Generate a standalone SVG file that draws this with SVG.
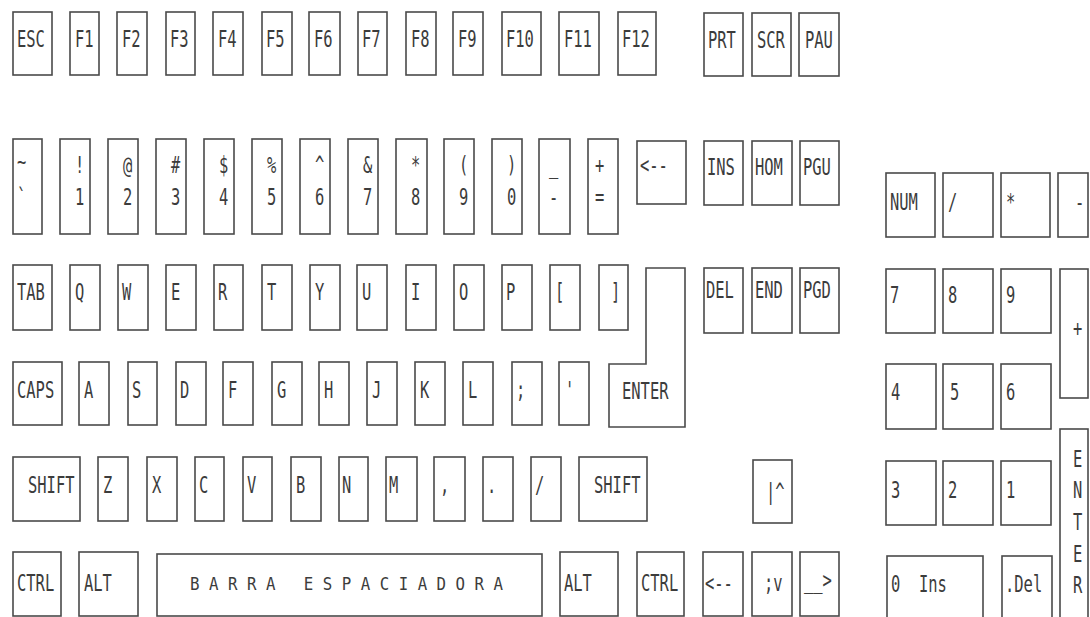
<svg xmlns="http://www.w3.org/2000/svg" width="1090" height="617" viewBox="0 0 1090 617">
<style>
rect, path { fill: #fff; stroke: #4a4a4a; stroke-width: 1.6; }
text { font-family: "DejaVu Sans Mono", "Liberation Mono", monospace; font-size: 23px; fill: #3c3c3c; }
.sp { font-size: 18px; }
</style>
<rect x="0" y="0" width="1090" height="617" style="stroke:none;fill:#fff"/>
<!-- Function row -->
<g id="key-esc"><rect x="13" y="12" width="39" height="63"/><text x="17" y="47" textLength="27.9" lengthAdjust="spacingAndGlyphs">ESC</text></g>
<g id="key-f1"><rect x="70" y="12" width="29" height="63"/><text x="75" y="47" textLength="18.6" lengthAdjust="spacingAndGlyphs">F1</text></g>
<g id="key-f2"><rect x="117" y="12" width="30" height="63"/><text x="122" y="47" textLength="18.6" lengthAdjust="spacingAndGlyphs">F2</text></g>
<g id="key-f3"><rect x="166" y="12" width="29" height="63"/><text x="170" y="47" textLength="18.6" lengthAdjust="spacingAndGlyphs">F3</text></g>
<g id="key-f4"><rect x="213" y="12" width="30" height="63"/><text x="218" y="47" textLength="18.6" lengthAdjust="spacingAndGlyphs">F4</text></g>
<g id="key-f5"><rect x="262" y="12" width="30" height="63"/><text x="266" y="47" textLength="18.6" lengthAdjust="spacingAndGlyphs">F5</text></g>
<g id="key-f6"><rect x="309" y="12" width="31" height="63"/><text x="314" y="47" textLength="18.6" lengthAdjust="spacingAndGlyphs">F6</text></g>
<g id="key-f7"><rect x="358" y="12" width="29" height="63"/><text x="362" y="47" textLength="18.6" lengthAdjust="spacingAndGlyphs">F7</text></g>
<g id="key-f8"><rect x="406" y="12" width="30" height="63"/><text x="411" y="47" textLength="18.6" lengthAdjust="spacingAndGlyphs">F8</text></g>
<g id="key-f9"><rect x="453" y="12" width="30" height="63"/><text x="458" y="47" textLength="18.6" lengthAdjust="spacingAndGlyphs">F9</text></g>
<g id="key-f10"><rect x="502" y="12" width="39" height="63"/><text x="506" y="47" textLength="27.9" lengthAdjust="spacingAndGlyphs">F10</text></g>
<g id="key-f11"><rect x="559" y="12" width="40" height="63"/><text x="564" y="47" textLength="27.9" lengthAdjust="spacingAndGlyphs">F11</text></g>
<g id="key-f12"><rect x="618" y="12" width="38" height="63"/><text x="622" y="47" textLength="27.9" lengthAdjust="spacingAndGlyphs">F12</text></g>
<g id="key-prt"><rect x="704" y="13" width="39" height="63"/><text x="708" y="48" textLength="27.9" lengthAdjust="spacingAndGlyphs">PRT</text></g>
<g id="key-scr"><rect x="752" y="13" width="39" height="63"/><text x="757" y="48" textLength="27.9" lengthAdjust="spacingAndGlyphs">SCR</text></g>
<g id="key-pau"><rect x="799" y="13" width="40" height="63"/><text x="805" y="48" textLength="27.9" lengthAdjust="spacingAndGlyphs">PAU</text></g>
<!-- Number row -->
<g id="key-tilde"><rect x="13" y="139" width="29" height="95"/><text x="17" y="170" textLength="9.3" lengthAdjust="spacingAndGlyphs">~</text><text x="17" y="205" textLength="9.3" lengthAdjust="spacingAndGlyphs">`</text></g>
<g id="key-1"><rect x="60" y="139" width="30" height="95"/><text x="75" y="173" textLength="9.3" lengthAdjust="spacingAndGlyphs">!</text><text x="75" y="205" textLength="9.3" lengthAdjust="spacingAndGlyphs">1</text></g>
<g id="key-2"><rect x="108" y="139" width="30" height="95"/><text x="123" y="173" textLength="9.3" lengthAdjust="spacingAndGlyphs">@</text><text x="123" y="205" textLength="9.3" lengthAdjust="spacingAndGlyphs">2</text></g>
<g id="key-3"><rect x="156" y="139" width="30" height="95"/><text x="171" y="173" textLength="9.3" lengthAdjust="spacingAndGlyphs">#</text><text x="171" y="205" textLength="9.3" lengthAdjust="spacingAndGlyphs">3</text></g>
<g id="key-4"><rect x="204" y="139" width="30" height="95"/><text x="219" y="173" textLength="9.3" lengthAdjust="spacingAndGlyphs">$</text><text x="219" y="205" textLength="9.3" lengthAdjust="spacingAndGlyphs">4</text></g>
<g id="key-5"><rect x="252" y="139" width="30" height="95"/><text x="267" y="173" textLength="9.3" lengthAdjust="spacingAndGlyphs">%</text><text x="267" y="205" textLength="9.3" lengthAdjust="spacingAndGlyphs">5</text></g>
<g id="key-6"><rect x="300" y="139" width="30" height="95"/><text x="315" y="173" textLength="9.3" lengthAdjust="spacingAndGlyphs">^</text><text x="315" y="205" textLength="9.3" lengthAdjust="spacingAndGlyphs">6</text></g>
<g id="key-7"><rect x="348" y="139" width="30" height="95"/><text x="363" y="173" textLength="9.3" lengthAdjust="spacingAndGlyphs">&amp;</text><text x="363" y="205" textLength="9.3" lengthAdjust="spacingAndGlyphs">7</text></g>
<g id="key-8"><rect x="396" y="139" width="31" height="95"/><text x="411" y="173" textLength="9.3" lengthAdjust="spacingAndGlyphs">*</text><text x="411" y="205" textLength="9.3" lengthAdjust="spacingAndGlyphs">8</text></g>
<g id="key-9"><rect x="444" y="139" width="30" height="95"/><text x="459" y="173" textLength="9.3" lengthAdjust="spacingAndGlyphs">(</text><text x="459" y="205" textLength="9.3" lengthAdjust="spacingAndGlyphs">9</text></g>
<g id="key-0"><rect x="492" y="139" width="30" height="95"/><text x="507" y="173" textLength="9.3" lengthAdjust="spacingAndGlyphs">)</text><text x="507" y="205" textLength="9.3" lengthAdjust="spacingAndGlyphs">0</text></g>
<g id="key-minus"><rect x="539" y="139" width="31" height="95"/><text x="549" y="173" textLength="9.3" lengthAdjust="spacingAndGlyphs">_</text><text x="549" y="205" textLength="9.3" lengthAdjust="spacingAndGlyphs">-</text></g>
<g id="key-equal"><rect x="588" y="139" width="30" height="95"/><text x="595" y="173" textLength="9.3" lengthAdjust="spacingAndGlyphs">+</text><text x="595" y="205" textLength="9.3" lengthAdjust="spacingAndGlyphs">=</text></g>
<g id="key-backspace"><rect x="637" y="141" width="49" height="63"/><text x="640" y="173" textLength="27.9" lengthAdjust="spacingAndGlyphs">&lt;--</text></g>
<g id="key-ins"><rect x="704" y="141" width="39" height="64"/><text x="707" y="175" textLength="27.9" lengthAdjust="spacingAndGlyphs">INS</text></g>
<g id="key-hom"><rect x="752" y="141" width="40" height="64"/><text x="755" y="175" textLength="27.9" lengthAdjust="spacingAndGlyphs">HOM</text></g>
<g id="key-pgu"><rect x="800" y="141" width="39" height="64"/><text x="803" y="175" textLength="27.9" lengthAdjust="spacingAndGlyphs">PGU</text></g>
<!-- Keypad top -->
<g id="key-num"><rect x="886" y="173" width="49" height="64"/><text x="890" y="210" textLength="27.9" lengthAdjust="spacingAndGlyphs">NUM</text></g>
<g id="key-kpslash"><rect x="943" y="173" width="50" height="64"/><text x="948" y="210" textLength="9.3" lengthAdjust="spacingAndGlyphs">/</text></g>
<g id="key-kpstar"><rect x="1001" y="173" width="49" height="64"/><text x="1006" y="210" textLength="9.3" lengthAdjust="spacingAndGlyphs">*</text></g>
<g id="key-kpminus"><rect x="1058" y="173" width="30" height="64"/><text x="1075" y="210" textLength="9.3" lengthAdjust="spacingAndGlyphs">-</text></g>
<!-- QWERTY row -->
<g id="key-tab"><rect x="13" y="265" width="39" height="65"/><text x="17" y="300" textLength="27.9" lengthAdjust="spacingAndGlyphs">TAB</text></g>
<g id="key-q"><rect x="70" y="265" width="30" height="65"/><text x="75" y="300" textLength="9.3" lengthAdjust="spacingAndGlyphs">Q</text></g>
<g id="key-w"><rect x="118" y="265" width="30" height="65"/><text x="122" y="300" textLength="9.3" lengthAdjust="spacingAndGlyphs">W</text></g>
<g id="key-e"><rect x="166" y="265" width="30" height="65"/><text x="171" y="300" textLength="9.3" lengthAdjust="spacingAndGlyphs">E</text></g>
<g id="key-r"><rect x="214" y="265" width="29" height="65"/><text x="218" y="300" textLength="9.3" lengthAdjust="spacingAndGlyphs">R</text></g>
<g id="key-t"><rect x="262" y="265" width="30" height="65"/><text x="267" y="300" textLength="9.3" lengthAdjust="spacingAndGlyphs">T</text></g>
<g id="key-y"><rect x="310" y="265" width="30" height="65"/><text x="315" y="300" textLength="9.3" lengthAdjust="spacingAndGlyphs">Y</text></g>
<g id="key-u"><rect x="357" y="265" width="30" height="65"/><text x="362" y="300" textLength="9.3" lengthAdjust="spacingAndGlyphs">U</text></g>
<g id="key-i"><rect x="406" y="265" width="30" height="65"/><text x="411" y="300" textLength="9.3" lengthAdjust="spacingAndGlyphs">I</text></g>
<g id="key-o"><rect x="454" y="265" width="30" height="65"/><text x="459" y="300" textLength="9.3" lengthAdjust="spacingAndGlyphs">O</text></g>
<g id="key-p"><rect x="502" y="265" width="30" height="65"/><text x="506" y="300" textLength="9.3" lengthAdjust="spacingAndGlyphs">P</text></g>
<g id="key-lbracket"><rect x="550" y="265" width="30" height="65"/><text x="555" y="300" textLength="9.3" lengthAdjust="spacingAndGlyphs">[</text></g>
<g id="key-rbracket"><rect x="599" y="265" width="29" height="65"/><text x="611" y="300" textLength="9.3" lengthAdjust="spacingAndGlyphs">]</text></g>
<g id="key-enter"><path d="M646,268 H685 V427 H609 V364 H646 Z"/><text x="622" y="399" textLength="46.5" lengthAdjust="spacingAndGlyphs">ENTER</text></g>
<g id="key-del"><rect x="704" y="268" width="39" height="65"/><text x="706" y="298" textLength="27.9" lengthAdjust="spacingAndGlyphs">DEL</text></g>
<g id="key-end"><rect x="752" y="268" width="40" height="65"/><text x="755" y="298" textLength="27.9" lengthAdjust="spacingAndGlyphs">END</text></g>
<g id="key-pgd"><rect x="800" y="268" width="39" height="65"/><text x="803" y="298" textLength="27.9" lengthAdjust="spacingAndGlyphs">PGD</text></g>
<g id="key-kp7"><rect x="886" y="269" width="49" height="64"/><text x="890" y="303" textLength="9.3" lengthAdjust="spacingAndGlyphs">7</text></g>
<g id="key-kp8"><rect x="943" y="269" width="50" height="64"/><text x="948" y="303" textLength="9.3" lengthAdjust="spacingAndGlyphs">8</text></g>
<g id="key-kp9"><rect x="1001" y="269" width="50" height="64"/><text x="1006" y="303" textLength="9.3" lengthAdjust="spacingAndGlyphs">9</text></g>
<g id="key-kpplus"><rect x="1060" y="269" width="28" height="129"/><text x="1073" y="336" textLength="9.3" lengthAdjust="spacingAndGlyphs">+</text></g>
<!-- Home row -->
<g id="key-caps"><rect x="13" y="362" width="49" height="63"/><text x="17" y="398" textLength="37.2" lengthAdjust="spacingAndGlyphs">CAPS</text></g>
<g id="key-a"><rect x="79" y="362" width="30" height="63"/><text x="84" y="398" textLength="9.3" lengthAdjust="spacingAndGlyphs">A</text></g>
<g id="key-s"><rect x="128" y="362" width="29" height="63"/><text x="132" y="398" textLength="9.3" lengthAdjust="spacingAndGlyphs">S</text></g>
<g id="key-d"><rect x="176" y="362" width="30" height="63"/><text x="180" y="398" textLength="9.3" lengthAdjust="spacingAndGlyphs">D</text></g>
<g id="key-f"><rect x="223" y="362" width="30" height="63"/><text x="228" y="398" textLength="9.3" lengthAdjust="spacingAndGlyphs">F</text></g>
<g id="key-g"><rect x="272" y="362" width="30" height="63"/><text x="277" y="398" textLength="9.3" lengthAdjust="spacingAndGlyphs">G</text></g>
<g id="key-h"><rect x="319" y="362" width="30" height="63"/><text x="324" y="398" textLength="9.3" lengthAdjust="spacingAndGlyphs">H</text></g>
<g id="key-j"><rect x="367" y="362" width="30" height="63"/><text x="372" y="398" textLength="9.3" lengthAdjust="spacingAndGlyphs">J</text></g>
<g id="key-k"><rect x="415" y="362" width="30" height="63"/><text x="420" y="398" textLength="9.3" lengthAdjust="spacingAndGlyphs">K</text></g>
<g id="key-l"><rect x="463" y="362" width="30" height="63"/><text x="468" y="398" textLength="9.3" lengthAdjust="spacingAndGlyphs">L</text></g>
<g id="key-semicolon"><rect x="512" y="362" width="30" height="63"/><text x="516" y="398" textLength="9.3" lengthAdjust="spacingAndGlyphs">;</text></g>
<g id="key-quote"><rect x="559" y="362" width="30" height="63"/><text x="565" y="398" textLength="9.3" lengthAdjust="spacingAndGlyphs">'</text></g>
<g id="key-kp4"><rect x="886" y="364" width="50" height="65"/><text x="891" y="400" textLength="9.3" lengthAdjust="spacingAndGlyphs">4</text></g>
<g id="key-kp5"><rect x="943" y="364" width="50" height="65"/><text x="950" y="400" textLength="9.3" lengthAdjust="spacingAndGlyphs">5</text></g>
<g id="key-kp6"><rect x="1001" y="364" width="50" height="65"/><text x="1006" y="400" textLength="9.3" lengthAdjust="spacingAndGlyphs">6</text></g>
<!-- Shift row -->
<g id="key-lshift"><rect x="13" y="457" width="67" height="64"/><text x="28" y="493" textLength="46.5" lengthAdjust="spacingAndGlyphs">SHIFT</text></g>
<g id="key-z"><rect x="98" y="457" width="30" height="64"/><text x="103" y="493" textLength="9.3" lengthAdjust="spacingAndGlyphs">Z</text></g>
<g id="key-x"><rect x="147" y="457" width="30" height="64"/><text x="152" y="493" textLength="9.3" lengthAdjust="spacingAndGlyphs">X</text></g>
<g id="key-c"><rect x="195" y="457" width="29" height="64"/><text x="199" y="493" textLength="9.3" lengthAdjust="spacingAndGlyphs">C</text></g>
<g id="key-v"><rect x="243" y="457" width="29" height="64"/><text x="247" y="493" textLength="9.3" lengthAdjust="spacingAndGlyphs">V</text></g>
<g id="key-b"><rect x="291" y="457" width="30" height="64"/><text x="296" y="493" textLength="9.3" lengthAdjust="spacingAndGlyphs">B</text></g>
<g id="key-n"><rect x="339" y="457" width="29" height="64"/><text x="342" y="493" textLength="9.3" lengthAdjust="spacingAndGlyphs">N</text></g>
<g id="key-m"><rect x="386" y="457" width="31" height="64"/><text x="389" y="493" textLength="9.3" lengthAdjust="spacingAndGlyphs">M</text></g>
<g id="key-comma"><rect x="434" y="457" width="31" height="64"/><text x="440" y="493" textLength="9.3" lengthAdjust="spacingAndGlyphs">,</text></g>
<g id="key-period"><rect x="483" y="457" width="30" height="64"/><text x="487" y="493" textLength="9.3" lengthAdjust="spacingAndGlyphs">.</text></g>
<g id="key-slash"><rect x="531" y="457" width="30" height="64"/><text x="535" y="493" textLength="9.3" lengthAdjust="spacingAndGlyphs">/</text></g>
<g id="key-rshift"><rect x="579" y="457" width="68" height="64"/><text x="594" y="493" textLength="46.5" lengthAdjust="spacingAndGlyphs">SHIFT</text></g>
<g id="key-up"><rect x="753" y="460" width="39" height="63"/><text x="766" y="500" textLength="18.6" lengthAdjust="spacingAndGlyphs">|^</text></g>
<g id="key-kp3"><rect x="886" y="461" width="50" height="64"/><text x="891" y="498" textLength="9.3" lengthAdjust="spacingAndGlyphs">3</text></g>
<g id="key-kp2"><rect x="943" y="461" width="50" height="64"/><text x="948" y="498" textLength="9.3" lengthAdjust="spacingAndGlyphs">2</text></g>
<g id="key-kp1"><rect x="1001" y="461" width="50" height="64"/><text x="1006" y="498" textLength="9.3" lengthAdjust="spacingAndGlyphs">1</text></g>
<g id="key-kpenter"><rect x="1060" y="429" width="28" height="195"/>
<text x="1073" y="467" textLength="9.3" lengthAdjust="spacingAndGlyphs">E</text>
<text x="1073" y="498" textLength="9.3" lengthAdjust="spacingAndGlyphs">N</text>
<text x="1073" y="530" textLength="9.3" lengthAdjust="spacingAndGlyphs">T</text>
<text x="1073" y="562" textLength="9.3" lengthAdjust="spacingAndGlyphs">E</text>
<text x="1073" y="593" textLength="9.3" lengthAdjust="spacingAndGlyphs">R</text></g>
<!-- Bottom row -->
<g id="key-lctrl"><rect x="13" y="552" width="48" height="64"/><text x="17" y="591" textLength="37.2" lengthAdjust="spacingAndGlyphs">CTRL</text></g>
<g id="key-lalt"><rect x="79" y="552" width="59" height="64"/><text x="84" y="591" textLength="27.9" lengthAdjust="spacingAndGlyphs">ALT</text></g>
<g id="key-space"><rect x="157" y="554" width="385" height="62"/><text class="sp" x="190" y="590" xml:space="preserve" textLength="313" lengthAdjust="spacingAndGlyphs">B A R R A   E S P A C I A D O R A</text></g>
<g id="key-ralt"><rect x="560" y="552" width="58" height="64"/><text x="564" y="591" textLength="27.9" lengthAdjust="spacingAndGlyphs">ALT</text></g>
<g id="key-rctrl"><rect x="637" y="552" width="47" height="64"/><text x="641" y="591" textLength="37.2" lengthAdjust="spacingAndGlyphs">CTRL</text></g>
<g id="key-left"><rect x="703" y="552" width="40" height="64"/><text x="705" y="591" textLength="27.9" lengthAdjust="spacingAndGlyphs">&lt;--</text></g>
<g id="key-down"><rect x="752" y="552" width="40" height="64"/><text x="764" y="591" textLength="18.6" lengthAdjust="spacingAndGlyphs">;v</text></g>
<g id="key-right"><rect x="800" y="552" width="39" height="64"/><text x="804" y="588" textLength="27.9" lengthAdjust="spacingAndGlyphs">__&gt;</text></g>
<g id="key-kp0"><rect x="887" y="556" width="96" height="62"/><text x="891" y="592" xml:space="preserve" textLength="55.8" lengthAdjust="spacingAndGlyphs">0  Ins</text></g>
<g id="key-kpdel"><rect x="1002" y="556" width="50" height="62"/><text x="1005" y="592" textLength="37.2" lengthAdjust="spacingAndGlyphs">.Del</text></g>
</svg>
